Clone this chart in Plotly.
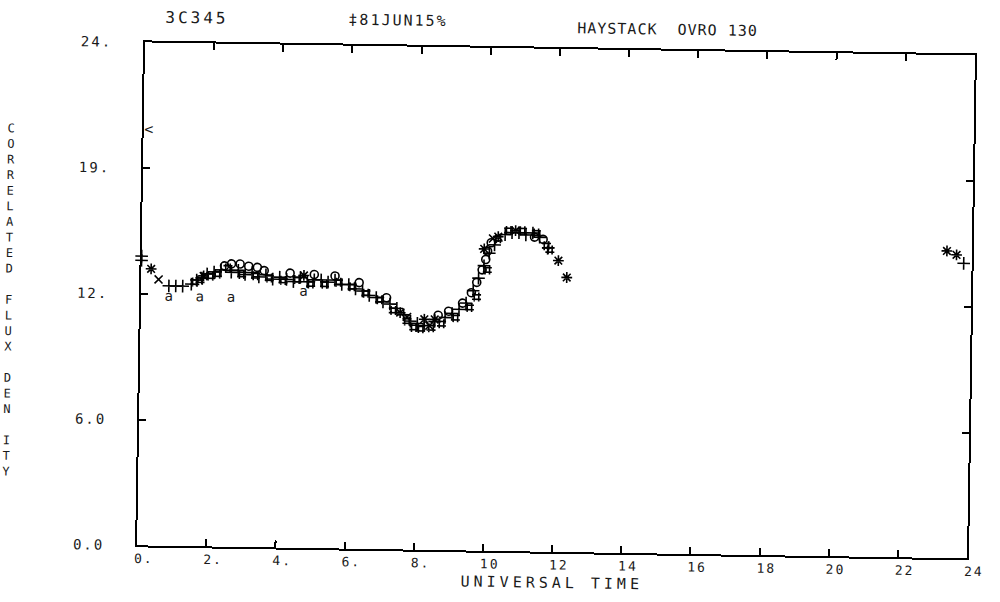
import plotly.graph_objects as go

# Correlated flux density of 3C345 versus universal time (hours)
ut_plus = [0.0, 0.0, 0.8, 1.0, 1.2, 1.45, 1.6, 1.75, 1.9, 2.1, 2.3, 2.6, 2.8, 3.0, 3.2, 3.4, 3.6,
           3.8, 4.0, 4.2, 4.4, 4.6, 4.8, 5.0, 5.2, 5.4, 5.6, 5.8, 6.0, 6.2, 6.4, 6.6, 6.8, 7.0,
           7.2, 7.4, 7.6, 7.8, 8.0, 8.2, 8.5, 8.8, 9.0, 9.2, 9.4, 9.6, 9.75, 9.9, 10.05, 10.2,
           10.5, 10.7, 10.9, 11.1, 11.3, 11.5, 11.75, 23.77]
flux_plus = [13.8, 13.6, 12.4, 12.4, 12.4, 12.5, 12.7, 12.8, 13.0, 13.1, 13.2, 13.1, 13.2, 13.0,
             13.1, 12.9, 13.0, 12.8, 12.9, 12.8, 12.7, 12.9, 12.7, 12.8, 12.8, 12.7, 12.8, 12.6,
             12.6, 12.4, 12.3, 12.1, 12.0, 11.8, 11.7, 11.5, 11.2, 10.9, 10.8, 10.7, 10.9, 11.1,
             11.3, 11.5, 11.8, 12.4, 13.0, 13.6, 14.2, 14.6, 15.1, 15.2, 15.2, 15.1, 15.2, 15.0,
             14.5, 14.07]

ut_hash = [1.55, 1.7, 2.0, 2.2, 2.5, 2.9, 3.3, 3.7, 4.1, 4.5, 4.9, 5.3, 5.7, 6.1, 6.5, 6.9, 7.3,
           7.7, 7.9, 8.1, 8.4, 8.7, 9.1, 9.5, 9.7, 10.0, 10.3, 10.6, 11.0, 11.4, 11.7, 11.8]
flux_hash = [12.6, 12.7, 12.9, 13.0, 13.3, 13.0, 12.95, 12.85, 12.75, 12.8, 12.6, 12.6, 12.7, 12.5,
             12.2, 11.9, 11.4, 10.9, 10.6, 10.55, 10.6, 10.8, 11.1, 11.6, 12.1, 13.4, 14.9, 15.3,
             15.3, 15.2, 14.6, 14.4]

ut_circle = [2.4, 2.6, 2.85, 3.1, 3.35, 3.55, 4.3, 5.0, 5.6, 6.3, 7.1, 8.6, 8.9, 9.3, 9.55, 9.7,
             9.85, 9.95, 10.0, 10.1, 11.35, 11.6]
flux_circle = [13.4, 13.5, 13.5, 13.4, 13.35, 13.2, 13.1, 13.05, 13.0, 12.7, 12.0, 11.2, 11.4,
               11.8, 12.3, 12.8, 13.4, 13.9, 14.3, 14.7, 15.0, 14.9]

ut_star = [0.28, 1.8, 4.7, 7.5, 8.2, 8.5, 9.9, 10.3, 10.8, 12.05, 12.3, 23.28, 23.56]
flux_star = [13.2, 12.9, 13.0, 11.3, 11.0, 11.0, 14.4, 15.0, 15.3, 13.9, 13.1, 14.65, 14.47]

ut_cross = [0.5, 7.7, 8.35, 10.15]
flux_cross = [12.7, 11.1, 10.7, 14.9]

ut_a = [0.8, 1.7, 2.6, 4.7]
flux_a = [11.85, 11.85, 11.85, 12.2]

ut_flag = [0.15]
flux_flag = [19.8]

x_ticks = [0, 2, 4, 6, 8, 10, 12, 14, 16, 18, 20, 22, 24]
x_tick_labels = ["0.", "2.", "4.", "6.", "8.", "10", "12", "14", "16", "18", "20", "22", "24"]
y_ticks = [0, 6, 12, 18, 24]
y_tick_labels = ["0.0", "6.0", "12.", "19.", "24."]

MONO = "DejaVu Sans Mono"
INK = "#1a1a1a"


def spaced(s, px=3):
    return f'<span style="letter-spacing:{px}px">{s}</span>'


fig = go.Figure()


def add_markers(ut, flux, symbol, size):
    fig.add_trace(go.Scatter(
        x=ut, y=flux, mode="markers", cliponaxis=False, showlegend=False, hoverinfo="skip",
        marker=dict(symbol=symbol, size=size, color="black",
                    line=dict(color="black", width=1.6)),
    ))


def add_glyphs(ut, flux, glyph, size):
    fig.add_trace(go.Scatter(
        x=ut, y=flux, mode="text", text=[glyph] * len(ut), cliponaxis=False,
        showlegend=False, hoverinfo="skip",
        textfont=dict(family=MONO, size=size, color=INK),
    ))


add_markers(ut_hash, flux_hash, "hash-open", 9)
add_markers(ut_plus, flux_plus, "cross-thin-open", 9)
add_markers(ut_circle, flux_circle, "circle-open", 8)
add_markers(ut_star, flux_star, "asterisk-open", 9)
add_markers(ut_cross, flux_cross, "x-thin-open", 8)
add_glyphs(ut_a, flux_a, "a", 14)
add_glyphs(ut_flag, flux_flag, "<", 15)

axis_common = dict(
    showline=True, linewidth=2, linecolor="black", mirror="ticks",
    ticks="inside", ticklen=7, tickwidth=1.5, tickcolor="black",
    showgrid=False, zeroline=False,
)

fig.update_xaxes(range=[0, 24], tickvals=x_ticks,
                 ticktext=[spaced(t, 2) for t in x_tick_labels],
                 tickfont=dict(family=MONO, size=13, color=INK),
                 ticklabelshift=7, ticklabeloverflow="allow", **axis_common)
fig.update_yaxes(range=[0, 24], tickvals=y_ticks,
                 ticktext=[spaced(t, 2) for t in y_tick_labels],
                 tickfont=dict(family=MONO, size=14, color=INK),
                 ticklabelstandoff=28, **axis_common)

ylabel = "CORRELATED FLUX DEN ITY"
ylabel_html = "<br>".join(ch if ch != " " else "\u00a0" for ch in ylabel)

W, H = 1000, 602
L, R, T, B = 141, 20, 48, 51
pw, ph = W - L - R, H - T - B

# header texts: (text, centre x px, centre y px, letter spacing, size)
headers = [
    ("3C345", 193, 22, 3, 16),
    ("‡81JUN15%", 396, 22, 2, 15),
    ("HAYSTACK  OVRO 130", 669, 27, 1, 15),
]
anns = []
for txt, hx, hy, sp, fs in headers:
    anns.append(dict(
        text=spaced(txt, sp), xref="paper", yref="paper",
        x=(hx - L) / pw, y=1 - (hy - T) / ph,
        xanchor="center", yanchor="middle", showarrow=False,
        font=dict(family=MONO, size=fs, color=INK),
    ))

anns.append(dict(
    text=spaced("UNIVERSAL TIME", 4), xref="paper", yref="paper",
    x=0.5, y=0, yshift=-31, xanchor="center", yanchor="middle", showarrow=False,
    font=dict(family=MONO, size=15, color=INK),
))
anns.append(dict(
    text=ylabel_html, xref="paper", yref="paper",
    x=(8 - L) / pw, y=1 - (127 - T) / ph, xanchor="center", yanchor="top",
    showarrow=False, align="center",
    font=dict(family=MONO, size=12, color=INK),
))

fig.update_layout(
    width=W, height=H,
    margin=dict(l=L, r=R, t=T, b=B),
    plot_bgcolor="white", paper_bgcolor="white",
    font=dict(family=MONO, size=14, color=INK),
    annotations=anns,
)

fig.write_html(
    "out.html",
    post_script="var d=document.getElementById('{plot_id}');"
                "d.style.transform='rotate(0.9deg)';",
)
